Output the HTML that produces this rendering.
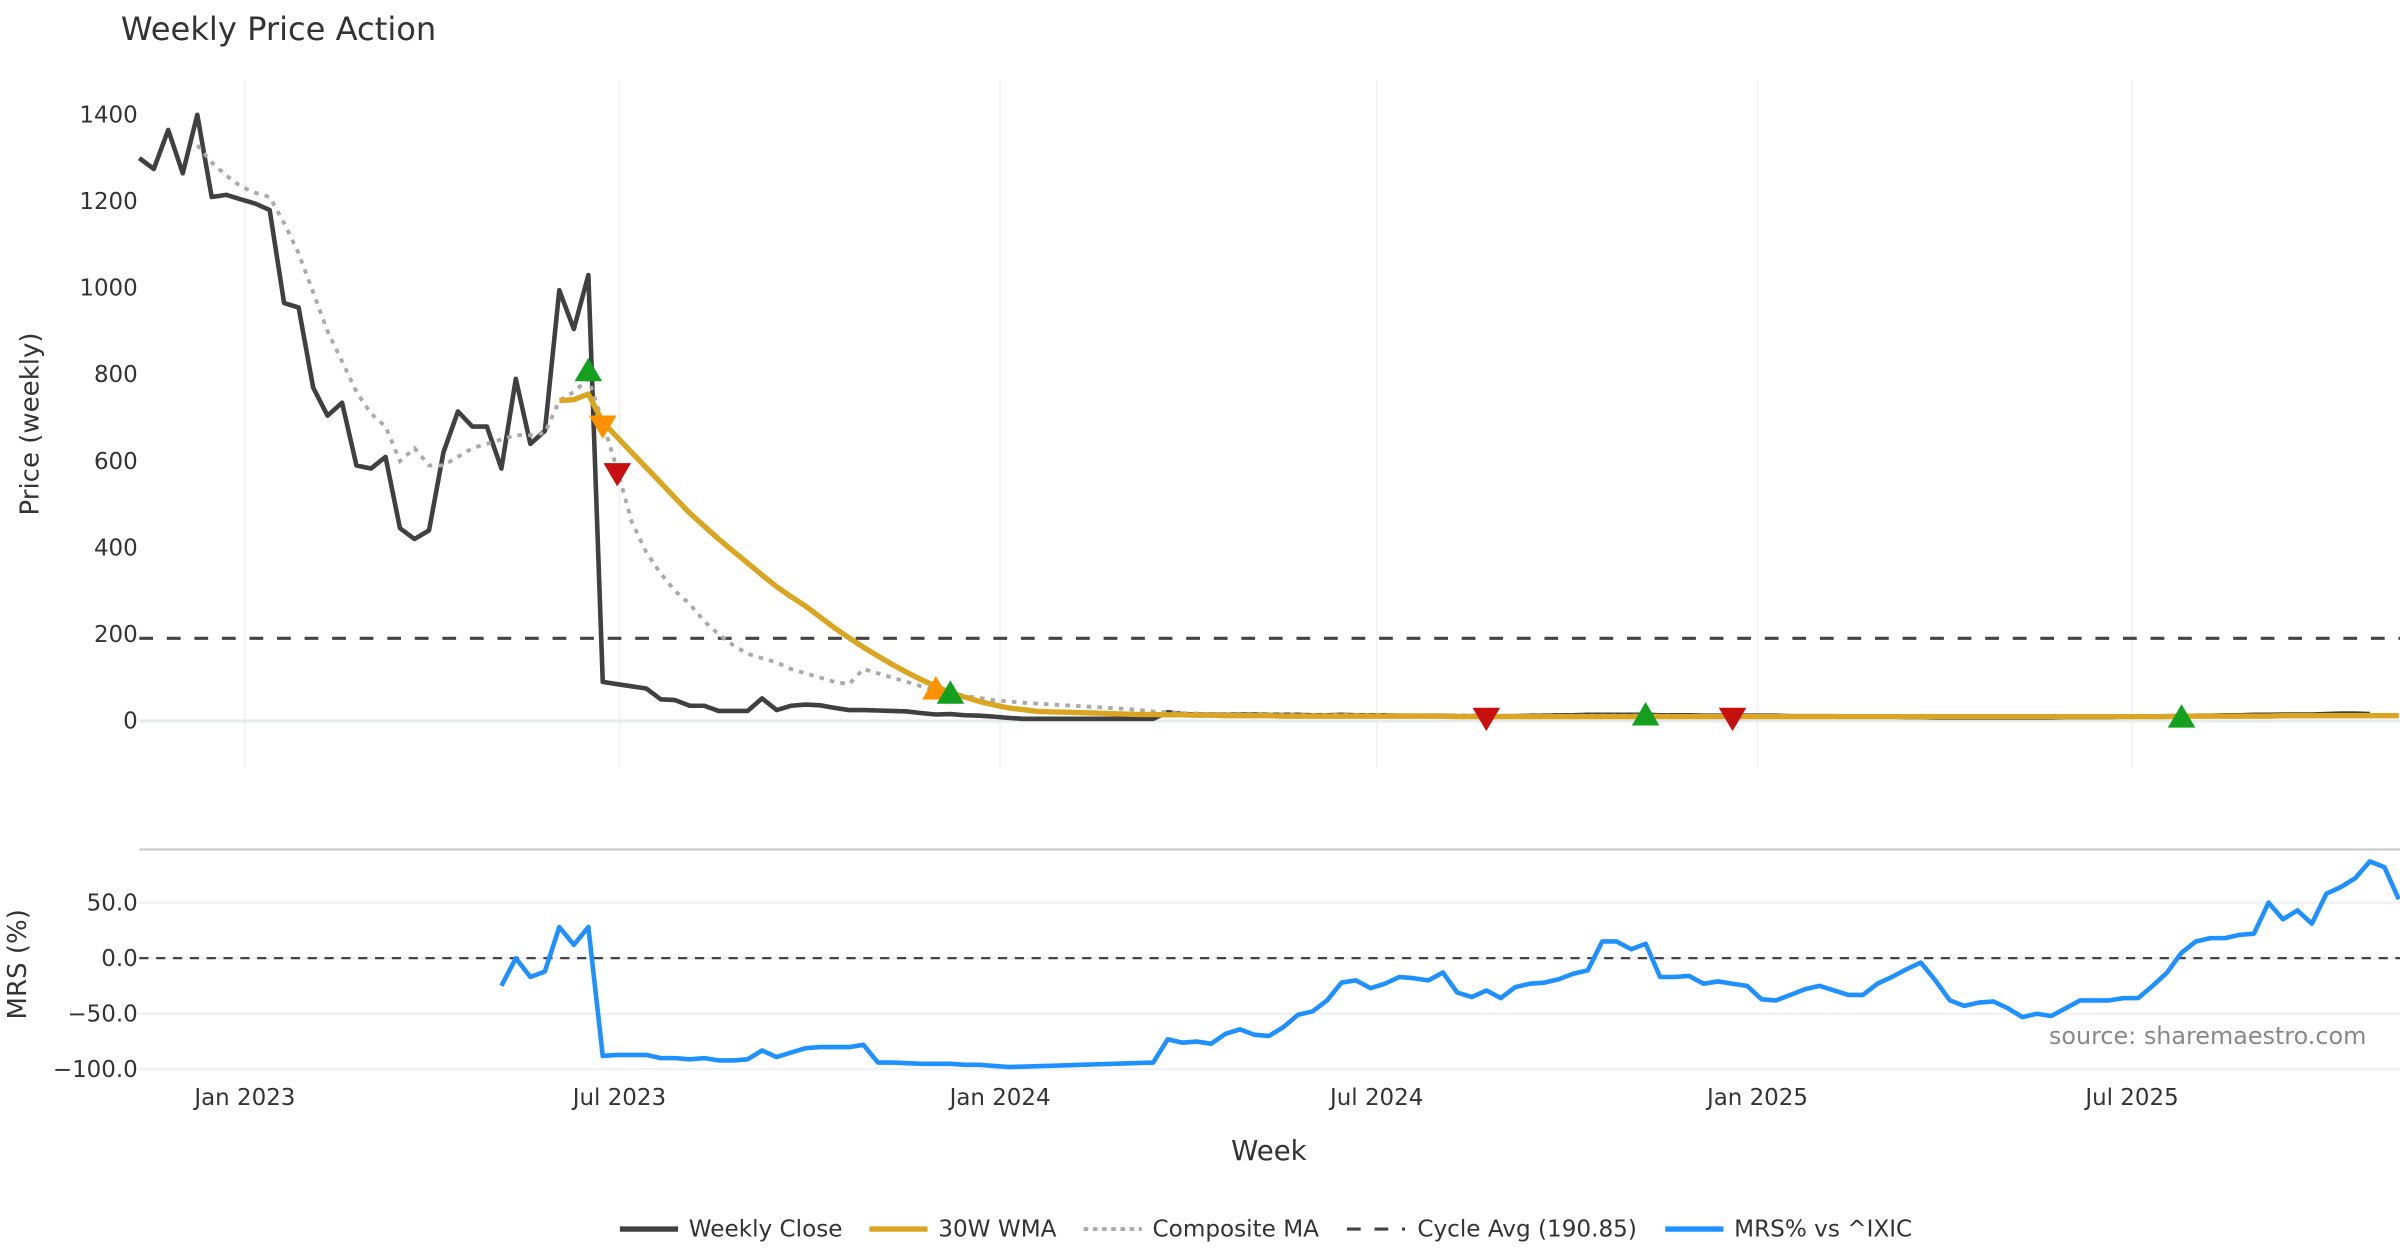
<!DOCTYPE html>
<html><head><meta charset="utf-8"><title>Weekly Price Action</title>
<style>
html,body{margin:0;padding:0;background:#fff;}
svg{display:block;font-family:"DejaVu Sans","Liberation Sans",sans-serif;}
</style></head>
<body>
<svg id="chart" width="2400" height="1260" viewBox="0 0 1568 823.2" preserveAspectRatio="none" xmlns="http://www.w3.org/2000/svg">
<text x="79" y="26" font-size="21" fill="#333">Weekly Price Action</text>
<g id="grid"></g>
<g id="series"></g>
<g id="axes"></g>
<text transform="translate(25,277) rotate(-90)" text-anchor="middle" font-size="17" fill="#333">Price (weekly)</text>
<text transform="translate(17,630) rotate(-90)" text-anchor="middle" font-size="17" fill="#333">MRS (%)</text>
<text x="829" y="758" text-anchor="middle" font-size="18" fill="#333">Week</text>
<text x="1546" y="682" text-anchor="end" font-size="15.6" fill="#888">source: sharemaestro.com</text>
<g font-size="15.1" fill="#333">
  <g><line x1="405" y1="803" x2="443" y2="803" stroke="#404040" stroke-width="3.5"/><text x="450" y="808">Weekly Close</text></g>
  <g><line x1="568" y1="803" x2="606" y2="803" stroke="#DAA520" stroke-width="3.5"/><text x="613" y="808">30W WMA</text></g>
  <g><line x1="708" y1="803" x2="746" y2="803" stroke="#aaa" stroke-width="2.5" stroke-dasharray="3,3"/><text x="753" y="808">Composite MA</text></g>
  <g><line x1="880" y1="803" x2="918" y2="803" stroke="#444" stroke-width="2" stroke-dasharray="9,9"/><text x="926" y="808">Cycle Avg (190.85)</text></g>
  <g><line x1="1088" y1="803" x2="1126" y2="803" stroke="#1E90FF" stroke-width="3.5"/><text x="1133" y="808">MRS% vs ^IXIC</text></g>
</g>
</svg>
<script>
const closeVals=[1300,1275,1365,1265,1400,1210,1215,1205,1195,1180,965,955,770,705,735,590,583,610,445,420,440,620,715,680,680,583,790,640,670,995,905,1030,90,85,80,75,50,48,35,35,23,23,23,52,25,35,38,36,30,25,25,24,23,22,18,15,16,13,12,10,7,5,5,5,5,5,5,5,5,5,5,20,16,15,15,14,15,15,14,14,14,13,13,14,13,13,13,12,12,12,12,11,11,10,11,11,12,12,13,13,14,14,14,14,14,13,13,13,12,12,12,12,12,12,11,11,11,11,10,10,10,10,9,9,8,8,8,8,8,8,8,8,8,9,9,9,9,10,10,10,11,11,12,12,13,13,14,14,15,15,15,16,17,17,16];
const wmaStart=29;
const wmaVals=[740,742,755,690,655,620,585,550,515,480,450,420,392,365,337,310,287,265,240,215,192,170,150,130,112,95,80,65,55,45,37,30,26,22,21,20,19,18,17,16,15,15,14,14,13,13,12,12,12,12,11,11,11,11,11,11,11,11,11,11,11,11,10,10,10,10,10,10,10,10,10,10,10,10,10,10,10,10,10,10,10,10,10,10,10,10,10,10,10,10,10,10,10,10,10,10,10,10,10,10,10,10,10,10,10,10,10,10,10,10,10,10,11,11,11,11,11,11,11,12,12,12,12,12,12,12,12,12];
const compStart=4;
const compVals=[1330,1290,1260,1235,1220,1210,1150,1080,990,900,830,760,710,680,600,630,590,590,610,630,640,650,660,660,665,740,760,790,690,580,460,390,340,300,270,230,200,175,155,145,135,120,110,100,90,85,120,110,100,90,80,72,65,58,53,48,45,42,40,38,36,34,32,30,28,25,22,20,18,17,16,16,15,15,15,15,15,14,14,14,14,14,14,13,13,13,13,13,13,13,12,12,12,12,12,12,12,12,12,12,12,12,12,11,11,11,11,11,11,11,11,11,11,10,10,10,10,10,10,10,10,10,10,10,10,10,10,10,10,10,10,10,10,10,10,10,10,10,10,11,11,11,11,11,11,11,11,11,11];
const mrsStart=25;
const mrsVals=[-25,0,-17,-12,28,12,28,-88,-87,-87,-87,-90,-90,-91,-90,-92,-92,-91,-83,-89,-85,-81,-80,-80,-80,-78,-94,-94,-94.5,-95,-95,-95,-96,-96,-97,-98,-97.6,-97.2,-96.8,-96.4,-96,-95.6,-95.2,-94.8,-94.4,-94,-73,-76,-75,-77,-68,-64,-69,-70,-62,-51,-48,-38,-22,-20,-27,-23,-17,-18,-20,-13,-31,-35,-29,-36,-26,-23,-22,-19,-14,-11,15,15,8,13,-17,-17,-16,-23,-21,-23,-25,-37,-38,-33,-28,-25,-29,-33,-33,-23,-17,-10,-4,-20,-38,-43,-40,-39,-45,-53,-50,-52,-45,-38,-38,-38,-36,-36,-25,-13,5,15,18,18,21,22,50,35,43,31,58,64,72,87,82,53];
const cycleAvg=190.85;
const sigIdx=[31,32,33,55,56,93,104,110,141];
const sigVals=[810,680,570,75,65,5,15,5,10];
const sigTypes=['buy','warn-sell','sell','warn-buy','buy','sell','buy','sell','buy'];
const priceTicks=[0,200,400,600,800,1000,1200,1400];
const mrsTicks=[-100,-50,0,50];
const mrsTickLabels=['\u2212100.0','\u221250.0','0.0','50.0'];
const xTickWeeks=[7.29,33.15,59.43,85.43,111.72,137.58];
const xTickLabels=['Jan 2023','Jul 2023','Jan 2024','Jul 2024','Jan 2025','Jul 2025'];

const NS='http://www.w3.org/2000/svg';
const xS=i=>91+i*9.463;
const yP=v=>471-v*(396/1400);
const yM=v=>626-v*0.726;
function mk(tag,attrs,parent){const e=document.createElementNS(NS,tag);for(const k in attrs)e.setAttribute(k,attrs[k]);parent.appendChild(e);return e;}
const grid=document.getElementById('grid'),ser=document.getElementById('series'),axes=document.getElementById('axes');

xTickWeeks.forEach((w,k)=>{
  const x=xS(w);
  let g=mk('line',{x1:x,x2:x,y1:52,y2:502,stroke:'#eef0f3','stroke-width':1},grid);
  
  
  let t=mk('text',{x:x,y:722,'text-anchor':'middle','font-size':15,fill:'#333'},axes);
  t.textContent=xTickLabels[k];
  
  
});
priceTicks.forEach(v=>{
  const y=yP(v);
  if(v===0){let z=mk('line',{x1:91,x2:1568,y1:y,y2:y,stroke:'#e6e9ef','stroke-width':2},grid);
    
    }
  let t=mk('text',{x:90,y:y+5,'text-anchor':'end','font-size':15,fill:'#333'},axes);
  t.textContent=v;
  
  
});
let sep=mk('line',{x1:91,x2:1568,y1:555,y2:555,stroke:'#ccc','stroke-width':1.5},grid);


mrsTicks.forEach((v,k)=>{
  const y=yM(v);
  let g=mk('line',{x1:91,x2:1568,y1:y,y2:y,stroke:'#eef0f5','stroke-width':1.5},grid);
  
  
  let t=mk('text',{x:90,y:y+5,'text-anchor':'end','font-size':15,fill:'#333'},axes);
  t.textContent=mrsTickLabels[k];
  
  
});

function pathFrom(vals,start,ys){return vals.map((v,i)=>(i?'L':'M')+xS(start+i).toFixed(1)+','+ys(v).toFixed(1)).join(' ');}
let cyc=mk('line',{x1:91,x2:1568,y1:yP(cycleAvg),y2:yP(cycleAvg),stroke:'#444','stroke-width':2,'stroke-dasharray':'9,9'},ser);


let c=mk('path',{d:pathFrom(closeVals,0,yP),fill:'none',stroke:'#404040','stroke-width':3,'stroke-linejoin':'round'},ser);


let cm=mk('path',{d:pathFrom(compVals,compStart,yP),fill:'none',stroke:'#aaa','stroke-width':2.5,'stroke-dasharray':'3,4'},ser);


let wm=mk('path',{d:pathFrom(wmaVals,wmaStart,yP),fill:'none',stroke:'#DAA520','stroke-width':3.5,'stroke-linejoin':'round'},ser);


let zl=mk('line',{x1:91,x2:1568,y1:yM(0),y2:yM(0),stroke:'#444','stroke-width':1.5,'stroke-dasharray':'6,5'},ser);


let mr=mk('path',{d:pathFrom(mrsVals,mrsStart,yM),fill:'none',stroke:'#1E90FF','stroke-width':3,'stroke-linejoin':'round'},ser);



const colors={'buy':'#14a01e','sell':'#c80f0f','warn-buy':'#ff9100','warn-sell':'#ff9100'};
sigIdx.forEach((idx,k)=>{
  const x=xS(idx),y=yP(sigVals[k]),t=sigTypes[k],s=9;
  const up=(t==='buy'||t==='warn-buy');
  const pts=up?`${x-s},${y+s*0.8} ${x+s},${y+s*0.8} ${x},${y-s*0.9}`:`${x-s},${y-s*0.8} ${x+s},${y-s*0.8} ${x},${y+s*0.9}`;
  let p=mk('polygon',{points:pts,fill:colors[t]},ser);
  
  
});
</script>
</body></html>
